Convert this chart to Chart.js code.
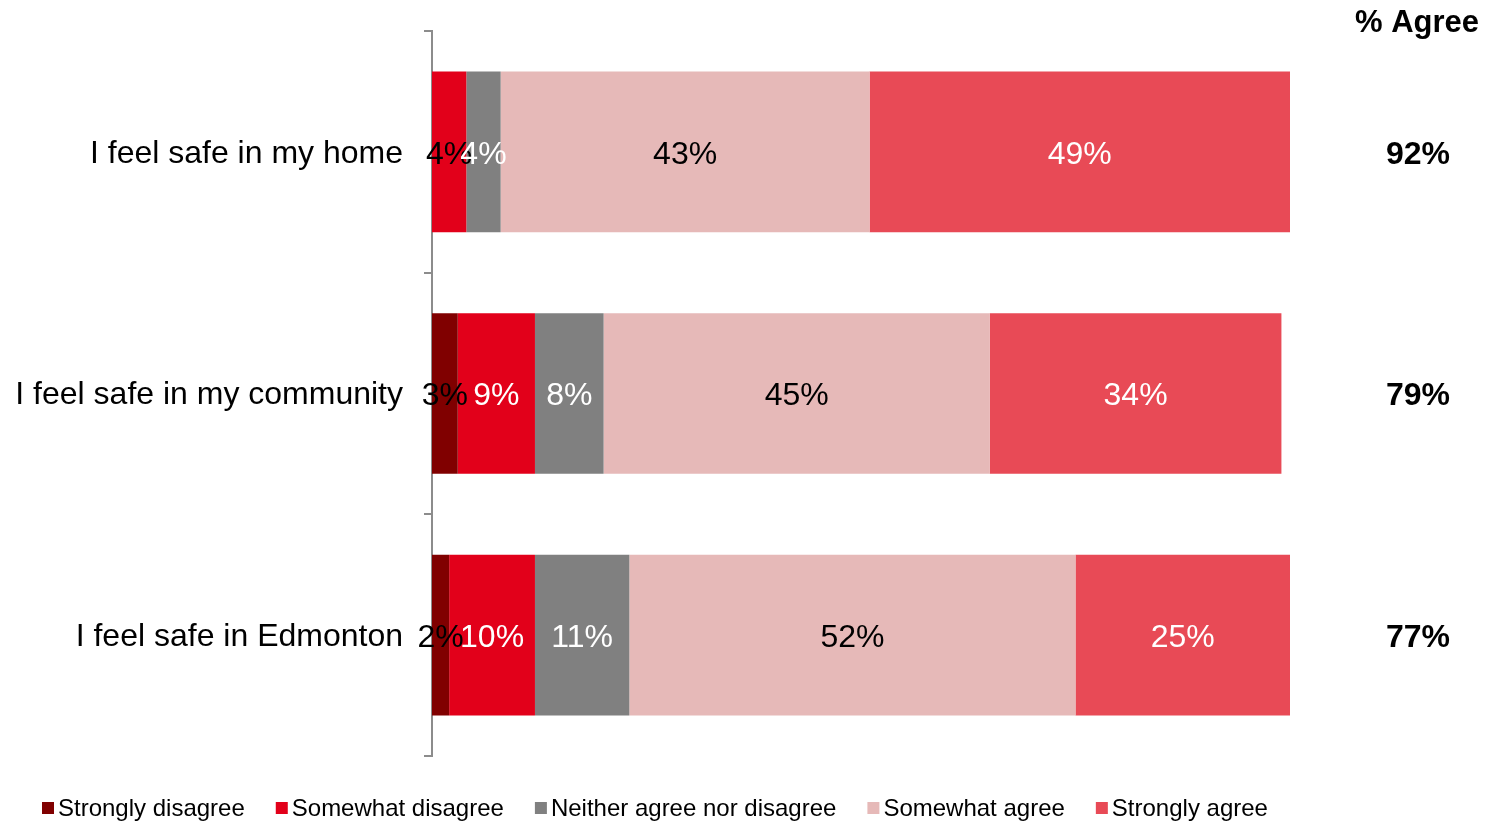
<!DOCTYPE html>
<html>
<head>
<meta charset="utf-8">
<script src="https://cdn.jsdelivr.net/npm/chart.js@4/dist/chart.umd.min.js"></script>
<style>
  html, body { margin: 0; padding: 0; background: #fff; }
  #wrap { width: 1501px; height: 822px; }
</style>
</head>
<body>
<div id="wrap"><canvas id="safetyChart" width="1501" height="822"></canvas></div>
<script>
const categories = ['I feel safe in my home', 'I feel safe in my community', 'I feel safe in Edmonton'];
const stronglyDisagree = [0, 3, 2];
const somewhatDisagree = [4, 9, 10];
const neitherAgree = [4, 8, 11];
const somewhatAgree = [43, 45, 52];
const stronglyAgree = [49, 34, 25];
const agreeTotals = [92, 79, 77];

const FONT = "'Liberation Sans', Arial, sans-serif";

const series = [
    { label: 'Strongly disagree', data: stronglyDisagree, color: '#800000', text: ['#000', '#000', '#000'] },
    { label: 'Somewhat disagree', data: somewhatDisagree, color: '#e2001a', text: ['#000', '#fff', '#fff'] },
    { label: 'Neither agree nor disagree', data: neitherAgree, color: '#808080', text: ['#fff', '#fff', '#fff'] },
    { label: 'Somewhat agree', data: somewhatAgree, color: '#e6b9b8', text: ['#000', '#000', '#000'] },
    { label: 'Strongly agree', data: stronglyAgree, color: '#e84a56', text: ['#fff', '#fff', '#fff'] }
];

// value labels inside the bars, % Agree column and the legend row
const extrasPlugin = {
    id: 'extras',
    afterDatasetsDraw(chart) {
        const ctx = chart.ctx;
        ctx.save();
        ctx.font = '32px ' + FONT;
        ctx.textAlign = 'center';
        ctx.textBaseline = 'middle';
        chart.data.datasets.forEach((ds, i) => {
            chart.getDatasetMeta(i).data.forEach((bar, j) => {
                const v = ds.data[j];
                if (!v) return;
                ctx.fillStyle = series[i].text[j];
                ctx.fillText(v + '%', (bar.x + bar.base) / 2, bar.y + 3);
            });
        });

        // % Agree column
        ctx.fillStyle = '#000';
        ctx.font = 'bold 31px ' + FONT;
        ctx.fillText('% Agree', 1417, 23);
        ctx.font = 'bold 32px ' + FONT;
        const yScale = chart.scales.y;
        agreeTotals.forEach((v, j) => {
            ctx.fillText(v + '%', 1418, yScale.getPixelForValue(j) + 3);
        });

        // legend
        ctx.font = '24px ' + FONT;
        ctx.textAlign = 'left';
        let x = 42;
        const ly = 808;
        series.forEach(s => {
            ctx.fillStyle = s.color;
            ctx.fillRect(x, ly - 6, 12, 12);
            ctx.fillStyle = '#000';
            ctx.fillText(s.label, x + 16, ly + 1);
            x += 16 + ctx.measureText(s.label).width + 31;
        });
        ctx.restore();
    }
};

new Chart(document.getElementById('safetyChart'), {
    type: 'bar',
    data: {
        labels: categories,
        datasets: series.map(s => ({
            label: s.label,
            data: s.data,
            backgroundColor: s.color,
            borderWidth: 0,
            categoryPercentage: 1,
            barPercentage: 0.665
        }))
    },
    options: {
        indexAxis: 'y',
        responsive: false,
        animation: false,
        layout: { padding: { top: 31, right: 211, bottom: 66, left: 0 } },
        plugins: {
            legend: { display: false },
            tooltip: { enabled: false }
        },
        scales: {
            x: { stacked: true, display: false, min: 0, max: 100 },
            y: {
                stacked: true,
                afterFit: s => {
                    s.width = 432;
                    s.paddingTop = 0;
                    s.paddingBottom = 0;
                },
                border: { display: true, color: '#8c8c8c', width: 2 },
                grid: { display: true, drawOnChartArea: false, drawTicks: true, tickLength: 8, color: '#8c8c8c', lineWidth: 2 },
                ticks: { color: '#000', padding: 21, labelOffset: 2, font: { family: FONT, size: 32 } }
            }
        }
    },
    plugins: [extrasPlugin]
});
</script>
</body>
</html>
